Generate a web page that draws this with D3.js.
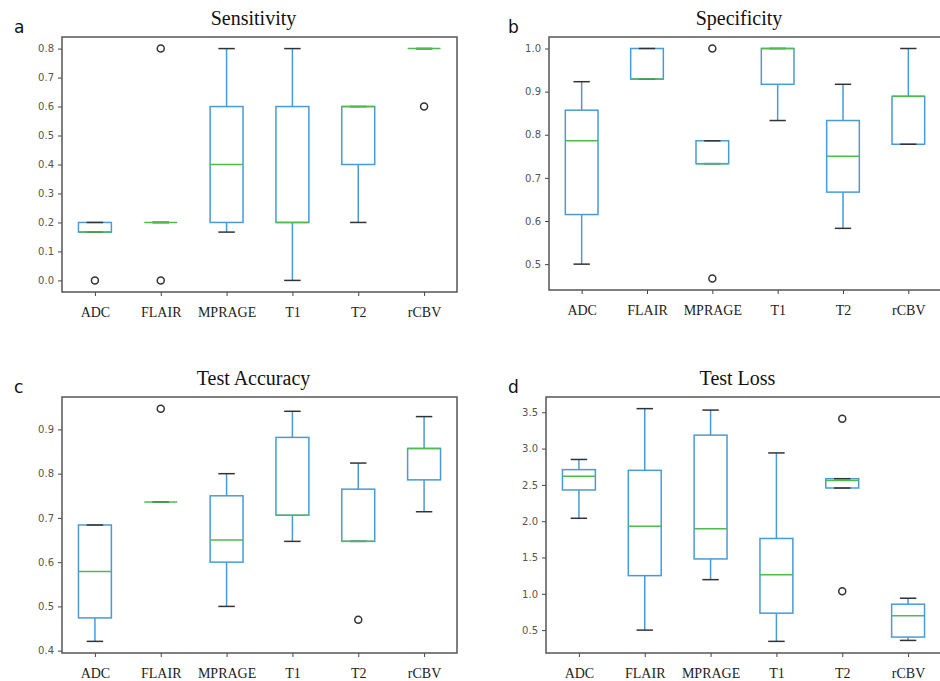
<!DOCTYPE html>
<html>
<head>
<meta charset="utf-8">
<script src="https://cdn.jsdelivr.net/npm/d3@7"></script>
<style>
body { margin: 0; background: #fff; }
</style>
</head>
<body>
<script>
const WIDTH = 940;
const HEIGHT = 681;

const categories = ["ADC", "FLAIR", "MPRAGE", "T1", "T2", "rCBV"];

// box stats per category: [whislo, q1, med, q3, whishi]
const sensitivityStats = [
    [0.1667, 0.1667, 0.1667, 0.2, 0.2],
    [0.2, 0.2, 0.2, 0.2, 0.2],
    [0.1667, 0.2, 0.4, 0.6, 0.8],
    [0.0, 0.2, 0.2, 0.6, 0.8],
    [0.2, 0.4, 0.6, 0.6, 0.6],
    [0.8, 0.8, 0.8, 0.8, 0.8]
];
const sensitivityOutliers = [[0.0], [0.0, 0.8], [], [], [], [0.6]];

const specificityStats = [
    [0.5, 0.615, 0.786, 0.857, 0.923],
    [0.929, 0.929, 0.929, 1.0, 1.0],
    [0.733, 0.733, 0.733, 0.786, 0.786],
    [0.833, 0.917, 1.0, 1.0, 1.0],
    [0.583, 0.667, 0.75, 0.833, 0.917],
    [0.778, 0.778, 0.889, 0.889, 1.0]
];
const specificityOutliers = [[], [], [1.0, 0.4667], [], [], []];

const accuracyStats = [
    [0.421, 0.474, 0.579, 0.684, 0.684],
    [0.736, 0.736, 0.736, 0.736, 0.736],
    [0.5, 0.6, 0.65, 0.75, 0.8],
    [0.647, 0.706, 0.706, 0.882, 0.941],
    [0.647, 0.647, 0.647, 0.765, 0.824],
    [0.714, 0.786, 0.857, 0.857, 0.929]
];
const accuracyOutliers = [[], [0.947], [], [], [0.47], []];

const lossStats = [
    [2.04, 2.43, 2.62, 2.71, 2.85],
    [0.5, 1.25, 1.93, 2.70, 3.55],
    [1.195, 1.48, 1.895, 3.185, 3.53],
    [0.345, 0.733, 1.264, 1.762, 2.94],
    [2.457, 2.457, 2.56, 2.585, 2.585],
    [0.358, 0.404, 0.697, 0.857, 0.939]
];
const lossOutliers = [[], [], [], [], [3.41, 1.035], []];

const sensitivityTicks = [0.0, 0.1, 0.2, 0.3, 0.4, 0.5, 0.6, 0.7, 0.8];
const specificityTicks = [0.5, 0.6, 0.7, 0.8, 0.9, 1.0];
const accuracyTicks = [0.4, 0.5, 0.6, 0.7, 0.8, 0.9];
const lossTicks = [0.5, 1.0, 1.5, 2.0, 2.5, 3.0, 3.5];

const BLUE = "#4a9ad8";
const GREEN = "#4dbb4d";
const DARK = "#333";

function drawPanel(svg, opts){
    let {x0, y0, x1, y1, title, letter, letterX, stats, outliers, ticks} = opts;
    let g = svg.append("g");

    let all = [];
    stats.forEach(s => all.push(...s));
    outliers.forEach(o => all.push(...o));
    let lo = d3.min(all), hi = d3.max(all);
    let pad = (hi - lo) * 0.05;

    let x = d3.scaleLinear().domain([0.5, categories.length + 0.5]).range([x0, x1]);
    let y = d3.scaleLinear().domain([lo - pad, hi + pad]).range([y1, y0]);
    let bw = (x(1) - x(0)) * 0.5;

    // axes
    g.append("g")
        .attr("transform", `translate(${x0},0)`)
        .call(d3.axisLeft(y).tickValues(ticks).tickFormat(d3.format(".1f")).tickSize(4).tickPadding(4))
        .call(a => a.select(".domain").remove())
        .call(a => a.selectAll("line").attr("stroke", "#444"))
        .call(a => a.selectAll("text")
            .attr("fill", "#555")
            .style("font-family", "'DejaVu Sans', sans-serif")
            .style("font-size", "10px"));

    g.append("g")
        .attr("transform", `translate(0,${y1})`)
        .call(d3.axisBottom(x).tickValues(d3.range(1, categories.length + 1))
            .tickFormat(i => categories[i - 1]).tickSize(4).tickPadding(11))
        .call(a => a.select(".domain").remove())
        .call(a => a.selectAll("line").attr("stroke", "#444"))
        .call(a => a.selectAll("text")
            .attr("fill", "#222")
            .style("font-family", "'Liberation Serif', serif")
            .style("font-size", "14px"));

    g.append("rect")
        .attr("x", x0).attr("y", y0)
        .attr("width", x1 - x0).attr("height", y1 - y0)
        .attr("fill", "none")
        .attr("stroke", "#555")
        .attr("stroke-width", 1.5);

    let boxes = g.selectAll(".box")
        .data(stats)
        .enter()
        .append("g")
        .attr("class", "box");

    // box
    boxes.append("rect")
        .attr("x", (d, i) => x(i + 1) - bw / 2)
        .attr("y", d => y(d[3]))
        .attr("width", bw)
        .attr("height", d => y(d[1]) - y(d[3]))
        .attr("fill", "none")
        .attr("stroke", BLUE).attr("stroke-width", 1.5);

    // whiskers
    boxes.append("line")
        .attr("x1", (d, i) => x(i + 1)).attr("x2", (d, i) => x(i + 1))
        .attr("y1", d => y(d[0])).attr("y2", d => y(d[1]))
        .attr("stroke", BLUE).attr("stroke-width", 1.5);
    boxes.append("line")
        .attr("x1", (d, i) => x(i + 1)).attr("x2", (d, i) => x(i + 1))
        .attr("y1", d => y(d[3])).attr("y2", d => y(d[4]))
        .attr("stroke", BLUE).attr("stroke-width", 1.5);

    // caps
    [0, 4].forEach(k => {
        boxes.append("line")
            .attr("x1", (d, i) => x(i + 1) - bw / 4).attr("x2", (d, i) => x(i + 1) + bw / 4)
            .attr("y1", d => y(d[k])).attr("y2", d => y(d[k]))
            .attr("stroke", DARK).attr("stroke-width", 1.5);
    });

    // median
    boxes.append("line")
        .attr("x1", (d, i) => x(i + 1) - bw / 2).attr("x2", (d, i) => x(i + 1) + bw / 2)
        .attr("y1", d => y(d[2])).attr("y2", d => y(d[2]))
        .attr("stroke", GREEN).attr("stroke-width", 1.5);

    // fliers
    let fl = [];
    outliers.forEach((o, i) => o.forEach(v => fl.push({i: i, v: v})));
    g.selectAll(".flier")
        .data(fl)
        .enter()
        .append("circle")
        .attr("class", "flier")
        .attr("cx", d => x(d.i + 1))
        .attr("cy", d => y(d.v))
        .attr("r", 3.5)
        .attr("fill", "none")
        .attr("stroke", DARK)
        .attr("stroke-width", 1.5);

    svg.append("text")
        .attr("x", (x0 + x1) / 2 - 6)
        .attr("y", y0 - 12)
        .attr("text-anchor", "middle")
        .style("font-family", "'Liberation Serif', serif")
        .style("font-size", "20px")
        .attr("fill", "#111")
        .text(title);

    svg.append("text")
        .attr("x", letterX)
        .attr("y", y0 - 4)
        .style("font-family", "'DejaVu Sans', sans-serif")
        .style("font-size", "17px")
        .attr("fill", "#111")
        .text(letter);
}

function setup(){
    let svg = d3.select("body")
        .append("svg")
        .attr("width", WIDTH)
        .attr("height", HEIGHT);

    drawPanel(svg, {x0: 62, y0: 37, x1: 457, y1: 292, title: "Sensitivity", letter: "a", letterX: 14,
        stats: sensitivityStats, outliers: sensitivityOutliers, ticks: sensitivityTicks});
    drawPanel(svg, {x0: 549, y0: 37, x1: 941, y1: 290, title: "Specificity", letter: "b", letterX: 508,
        stats: specificityStats, outliers: specificityOutliers, ticks: specificityTicks});
    drawPanel(svg, {x0: 62, y0: 397, x1: 457, y1: 653, title: "Test Accuracy", letter: "c", letterX: 14,
        stats: accuracyStats, outliers: accuracyOutliers, ticks: accuracyTicks});
    drawPanel(svg, {x0: 546, y0: 397, x1: 941, y1: 653, title: "Test Loss", letter: "d", letterX: 508,
        stats: lossStats, outliers: lossOutliers, ticks: lossTicks});
}

window.addEventListener("load", setup);
</script>
</body>
</html>
